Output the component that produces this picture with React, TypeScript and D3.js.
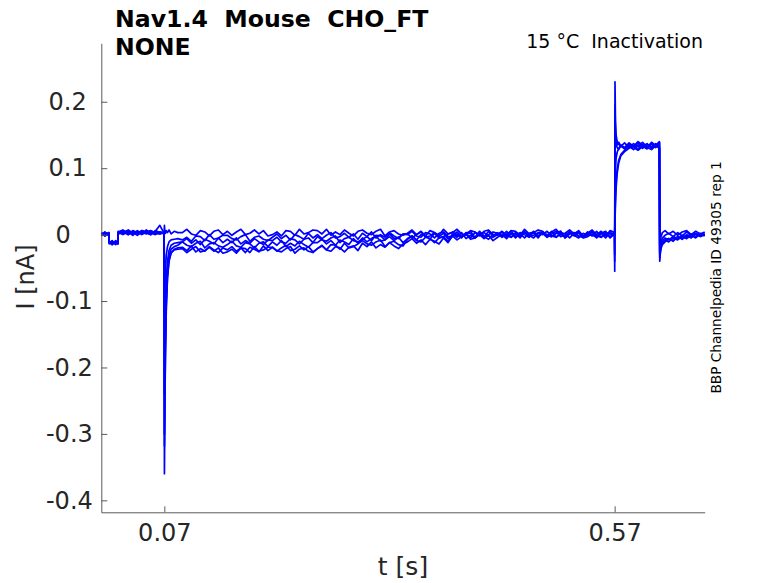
import { useEffect, useRef } from 'react';
import * as d3 from 'd3';

// time grid shared by all sweeps [s]
const TIME = [
  // holding + small pre step
  0, 0.004, 0.0084, 0.0088, 0.012, 0.016, 0.0184, 0.0188, 0.024, 0.03, 0.035, 0.04, 0.045, 0.05, 0.055, 0.06, 0.065, 0.0698,
  // prepulse onset
  0.0701, 0.0706, 0.0713, 0.0722, 0.0735, 0.0752, 0.0775, 0.081, 0.085,
  // prepulse
  0.09, 0.095, 0.10, 0.105, 0.11, 0.115, 0.12, 0.125, 0.13, 0.135,
  0.14, 0.145, 0.15, 0.155, 0.16, 0.165, 0.17, 0.175, 0.18, 0.185,
  0.19, 0.195, 0.20, 0.205, 0.21, 0.215, 0.22, 0.225, 0.23, 0.235,
  0.24, 0.245, 0.25, 0.255, 0.26, 0.265, 0.27, 0.275, 0.28, 0.285,
  0.29, 0.295, 0.30, 0.305, 0.31, 0.315, 0.32, 0.325, 0.33, 0.335,
  0.34, 0.345, 0.35, 0.355, 0.36, 0.365, 0.37, 0.375, 0.38, 0.385,
  0.39, 0.395, 0.40, 0.405, 0.41, 0.415, 0.42, 0.425, 0.43, 0.435,
  0.44, 0.445, 0.45, 0.455, 0.46, 0.465, 0.47, 0.475, 0.48, 0.485,
  0.49, 0.495, 0.50, 0.505, 0.51, 0.515, 0.52, 0.525, 0.53, 0.535,
  0.54, 0.545, 0.55, 0.555, 0.56, 0.565, 0.5698,
  // test pulse
  0.5701, 0.5704, 0.5709, 0.5716, 0.5728, 0.5745, 0.577, 0.581, 0.586, 0.591, 0.596, 0.601, 0.606, 0.611, 0.6155, 0.6197,
  // tail
  0.6201, 0.6206, 0.6215, 0.623, 0.626, 0.63, 0.635, 0.64, 0.645, 0.65, 0.655, 0.66, 0.665, 0.67,
];

// current of each sweep [nA]
const SWEEP_1 = [
  0.002, -0.002, 0.003, -0.011, -0.015, -0.009, -0.013, 0.004, 0.007, 0.001, 0.005, 0.002, 0.006, 0.003, 0.000, 0.006, 0.003, 0.002,
  -0.360, -0.262, -0.175, -0.110, -0.066, -0.040, -0.028, -0.022, -0.020,
  -0.019, -0.024, -0.017, -0.026, -0.021, -0.025, -0.018, -0.023, -0.027, -0.020,
  -0.023, -0.018, -0.025, -0.020, -0.027, -0.019, -0.022, -0.026, -0.017, -0.024,
  -0.019, -0.025, -0.020, -0.016, -0.024, -0.022, -0.017, -0.023, -0.018, -0.026,
  -0.021, -0.017, -0.023, -0.015, -0.016, -0.022, -0.013, -0.020, -0.018, -0.014,
  -0.009, -0.014, -0.016, -0.011, -0.008, -0.018, -0.012, -0.010, -0.015, -0.017,
  -0.007, -0.002, -0.009, -0.011, -0.004, -0.006, -0.012, -0.005, -0.003, -0.010,
  0.001, -0.004, 0.003, -0.006, -0.001, -0.005, 0.002, -0.003, -0.007, 0.000,
  -0.001, 0.004, -0.003, 0.002, -0.005, 0.003, 0.000, -0.004, 0.005, -0.002,
  0.002, -0.004, 0.001, 0.005, -0.003, -0.001, 0.004, -0.002, 0.003, -0.005,
  -0.003, 0.001, -0.005, 0.003, 0.002, -0.004, 0.001,
  -0.055, 0.230, 0.172, 0.150, 0.140, 0.136, 0.133, 0.138, 0.131, 0.137, 0.133, 0.139, 0.132, 0.137, 0.134, 0.139,
  -0.040, -0.030, -0.021, -0.015, -0.011, -0.006, -0.010, -0.003, -0.007, -0.001, -0.005, 0.001, -0.003, 0.000,
];
const SWEEP_2 = [
  0.000, 0.004, -0.001, -0.013, -0.009, -0.015, -0.011, 0.001, 0.003, 0.007, 0.002, 0.005, 0.000, 0.004, 0.006, 0.002, 0.001, 0.004,
  -0.318, -0.245, -0.165, -0.104, -0.062, -0.038, -0.027, -0.023, -0.022,
  -0.021, -0.027, -0.022, -0.018, -0.026, -0.024, -0.019, -0.025, -0.020, -0.028,
  -0.026, -0.022, -0.028, -0.020, -0.021, -0.027, -0.018, -0.025, -0.023, -0.019,
  -0.019, -0.024, -0.026, -0.021, -0.018, -0.028, -0.022, -0.020, -0.025, -0.027,
  -0.021, -0.016, -0.023, -0.025, -0.018, -0.020, -0.026, -0.019, -0.017, -0.024,
  -0.013, -0.018, -0.011, -0.020, -0.015, -0.019, -0.012, -0.017, -0.021, -0.014,
  -0.011, -0.006, -0.013, -0.008, -0.015, -0.007, -0.010, -0.014, -0.005, -0.012,
  -0.002, -0.008, -0.003, 0.001, -0.007, -0.005, 0.000, -0.006, -0.001, -0.009,
  -0.004, 0.000, -0.006, 0.002, 0.001, -0.005, 0.004, -0.003, -0.001, 0.003,
  0.004, -0.001, -0.003, 0.002, 0.005, -0.005, 0.001, 0.003, -0.002, -0.004,
  0.000, 0.005, -0.002, -0.004, 0.003, 0.001, -0.001,
  0.002, 0.030, 0.058, 0.080, 0.098, 0.112, 0.121, 0.127, 0.133, 0.128, 0.135, 0.130, 0.136, 0.131, 0.137, 0.132,
  -0.028, -0.022, -0.016, -0.012, -0.008, -0.011, -0.005, -0.008, -0.003, -0.006, -0.001, -0.005, 0.001, -0.002,
];
const SWEEP_3 = [
  -0.002, 0.003, 0.000, -0.012, -0.015, -0.010, -0.014, 0.005, 0.001, 0.004, -0.001, 0.006, 0.002, 0.005, 0.003, 0.000, 0.004, 0.003,
  -0.300, -0.215, -0.140, -0.088, -0.052, -0.032, -0.022, -0.018, -0.016,
  -0.011, -0.016, -0.018, -0.013, -0.010, -0.020, -0.014, -0.012, -0.017, -0.019,
  -0.015, -0.010, -0.017, -0.019, -0.012, -0.014, -0.020, -0.013, -0.011, -0.018,
  -0.011, -0.016, -0.009, -0.018, -0.013, -0.017, -0.010, -0.015, -0.019, -0.012,
  -0.012, -0.007, -0.014, -0.009, -0.016, -0.008, -0.011, -0.015, -0.006, -0.013,
  -0.005, -0.011, -0.006, -0.002, -0.010, -0.008, -0.003, -0.009, -0.004, -0.012,
  -0.006, -0.002, -0.008, 0.000, -0.001, -0.007, 0.002, -0.005, -0.003, 0.001,
  0.004, -0.001, -0.003, 0.002, 0.005, -0.005, 0.001, 0.003, -0.002, -0.004,
  0.000, 0.005, -0.002, -0.004, 0.003, 0.001, -0.005, 0.002, 0.004, -0.003,
  0.003, -0.002, 0.005, -0.004, 0.001, -0.003, 0.004, -0.001, -0.005, 0.002,
  -0.001, 0.004, -0.003, 0.002, -0.005, 0.003, 0.000,
  -0.040, 0.195, 0.152, 0.140, 0.135, 0.139, 0.133, 0.130, 0.137, 0.132, 0.138, 0.133, 0.129, 0.136, 0.131, 0.138,
  -0.035, -0.026, -0.018, -0.013, -0.009, -0.006, -0.009, -0.003, -0.006, 0.000, -0.004, 0.001, -0.002, 0.001,
];
const SWEEP_4 = [
  0.003, -0.002, 0.002, -0.010, -0.013, -0.014, -0.010, 0.002, 0.006, 0.000, 0.004, 0.002, 0.006, 0.003, 0.000, 0.005, 0.014, 0.002,
  -0.240, -0.170, -0.108, -0.066, -0.040, -0.024, -0.016, -0.013, -0.012,
  -0.011, -0.006, -0.013, -0.008, -0.015, -0.007, -0.010, -0.014, -0.005, -0.012,
  -0.007, -0.012, -0.005, -0.014, -0.009, -0.013, -0.006, -0.011, -0.015, -0.008,
  -0.009, -0.004, -0.011, -0.013, -0.006, -0.008, -0.014, -0.007, -0.005, -0.012,
  -0.003, -0.008, -0.010, -0.005, -0.002, -0.012, -0.006, -0.004, -0.009, -0.011,
  -0.007, -0.003, -0.009, -0.001, -0.002, -0.008, 0.001, -0.006, -0.004, 0.000,
  0.001, -0.005, 0.000, 0.004, -0.004, -0.002, 0.003, -0.003, 0.002, -0.006,
  -0.001, 0.004, -0.003, 0.002, -0.005, 0.003, 0.000, -0.004, 0.005, -0.002,
  0.003, -0.002, 0.005, -0.004, 0.001, -0.003, 0.004, -0.001, -0.005, 0.002,
  0.000, 0.005, -0.002, -0.004, 0.003, 0.001, -0.005, 0.002, 0.004, -0.003,
  0.004, -0.001, -0.003, 0.002, 0.005, -0.005, 0.002,
  0.001, 0.020, 0.045, 0.070, 0.092, 0.108, 0.119, 0.125, 0.130, 0.134, 0.129, 0.136, 0.131, 0.128, 0.134, 0.130,
  -0.022, -0.017, -0.012, -0.009, -0.005, -0.008, -0.003, -0.006, -0.001, -0.004, 0.001, -0.003, 0.002, -0.001,
];
const SWEEP_5 = [
  0.001, 0.003, -0.002, -0.012, -0.010, -0.013, -0.014, 0.004, 0.000, 0.005, 0.003, -0.001, 0.004, 0.001, 0.006, 0.002, 0.004, 0.001,
  -0.120, -0.080, -0.050, -0.030, -0.018, -0.011, -0.008, -0.007, -0.006,
  -0.008, -0.004, -0.010, -0.002, -0.003, -0.009, 0.000, -0.007, -0.005, -0.001,
  -0.001, -0.006, -0.008, -0.003, 0.000, -0.010, -0.004, -0.002, -0.007, -0.009,
  -0.004, 0.001, -0.006, -0.001, -0.008, 0.000, -0.003, -0.007, 0.002, -0.005,
  0.000, -0.006, -0.001, 0.003, -0.005, -0.003, 0.002, -0.004, 0.001, -0.007,
  0.002, -0.003, 0.004, -0.005, 0.000, -0.004, 0.003, -0.002, -0.006, 0.001,
  0.000, 0.005, -0.002, -0.004, 0.003, 0.001, -0.005, 0.002, 0.004, -0.003,
  -0.003, 0.001, -0.005, 0.003, 0.002, -0.004, 0.005, -0.002, 0.000, 0.004,
  0.002, -0.004, 0.001, 0.005, -0.003, -0.001, 0.004, -0.002, 0.003, -0.005,
  0.004, -0.001, -0.003, 0.002, 0.005, -0.005, 0.001, 0.003, -0.002, -0.004,
  0.003, -0.002, 0.005, -0.004, 0.001, -0.003, 0.002,
  -0.030, 0.170, 0.145, 0.136, 0.131, 0.128, 0.134, 0.129, 0.135, 0.131, 0.127, 0.133, 0.137, 0.130, 0.135, 0.131,
  -0.030, -0.020, -0.011, -0.005, -0.001, 0.002, -0.003, 0.003, -0.002, 0.004, -0.002, 0.002, -0.001, 0.003,
];
const SWEEP_6 = [
  0.002, 0.000, 0.003, -0.014, -0.011, -0.012, -0.011, 0.002, 0.004, 0.000, 0.006, 0.003, 0.001, 0.007, 0.002, 0.005, 0.001, 0.003,
  0.014, 0.004, 0.002, 0.006, 0.003, 0.007, 0.001, 0.005, 0.003,
  0.003, 0.008, 0.001, -0.001, 0.006, 0.004, -0.002, 0.005, 0.007, 0.000,
  0.005, -0.001, 0.004, 0.008, 0.000, 0.002, 0.007, 0.001, 0.006, -0.002,
  0.000, 0.004, -0.002, 0.006, 0.005, -0.001, 0.008, 0.001, 0.003, 0.007,
  0.006, 0.001, 0.008, -0.001, 0.004, 0.000, 0.007, 0.002, -0.002, 0.005,
  0.007, 0.002, 0.000, 0.005, 0.008, -0.002, 0.004, 0.006, 0.001, -0.001,
  0.002, 0.007, 0.000, 0.005, -0.002, 0.006, 0.003, -0.001, 0.008, 0.001,
  0.003, 0.008, 0.001, -0.001, 0.006, 0.004, -0.002, 0.005, 0.007, 0.000,
  0.000, 0.004, -0.002, 0.006, 0.005, -0.001, 0.008, 0.001, 0.003, 0.007,
  0.005, -0.001, 0.004, 0.008, 0.000, 0.002, 0.007, 0.001, 0.006, -0.002,
  0.002, 0.007, 0.000, 0.005, -0.002, 0.006, 0.003,
  0.003, 0.060, 0.097, 0.115, 0.124, 0.130, 0.135, 0.131, 0.138, 0.133, 0.140, 0.135, 0.131, 0.139, 0.134, 0.140,
  -0.015, -0.008, -0.003, 0.003, 0.006, 0.001, 0.005, -0.001, 0.004, 0.006, 0.000, 0.005, 0.001, 0.004,
];

const SWEEPS = [SWEEP_1, SWEEP_2, SWEEP_3, SWEEP_4, SWEEP_5, SWEEP_6];

const X_TICKS = [0.07, 0.57];
const X_TICK_LABELS = ['0.07', '0.57'];
const Y_TICKS = [-0.4, -0.3, -0.2, -0.1, 0, 0.1, 0.2];
const Y_TICK_LABELS = ['-0.4', '-0.3', '-0.2', '-0.1', '0', '0.1', '0.2'];

const TITLE_1 = 'Nav1.4  Mouse  CHO_FT';
const TITLE_2 = 'NONE';
const CONDITION = '15 °C  Inactivation';
const SOURCE = 'BBP Channelpedia ID 49305 rep 1';

const W = 778;
const H = 583;
const FONT = '"DejaVu Sans", sans-serif';
const TEXT = '#262626';
const AXIS = '#5a5a5a';

export default function App() {
  const xAxisRef = useRef<SVGGElement>(null);
  const yAxisRef = useRef<SVGGElement>(null);

  const x = d3.scaleLinear().domain([0, 0.67]).range([101.3, 704.7]);
  const y = d3.scaleLinear().domain([-0.418, 0.288]).range([512.3, 43.3]);

  useEffect(() => {
    document.body.style.margin = '0';

    const xAxis = d3.axisBottom(x)
      .tickValues(X_TICKS)
      .tickFormat((_, i) => X_TICK_LABELS[i])
      .tickSizeInner(-6)
      .tickSizeOuter(0)
      .tickPadding(12);
    const yAxis = d3.axisLeft(y)
      .tickValues(Y_TICKS)
      .tickFormat((_, i) => Y_TICK_LABELS[i])
      .tickSizeInner(-6)
      .tickSizeOuter(0)
      .tickPadding(19);

    const gx = d3.select(xAxisRef.current!);
    gx.selectAll('*').remove();
    gx.call(xAxis);
    const gy = d3.select(yAxisRef.current!);
    gy.selectAll('*').remove();
    gy.call(yAxis);

    [gx, gy].forEach(g => {
      g.attr('font-family', FONT).attr('font-size', 24);
      g.selectAll('.domain').attr('stroke', AXIS);
      g.selectAll('.tick line').attr('stroke', AXIS);
      g.selectAll('.tick text').attr('fill', TEXT);
    });

    // y labels sit about 30% into their width from a common anchor, as in the source figure
    const anchor = 60 - x.range()[0];
    gy.selectAll<SVGTextElement, unknown>('.tick text').each(function () {
      const w = this.getComputedTextLength();
      d3.select(this).attr('text-anchor', 'start').attr('x', anchor - 0.3 * w);
    });
  }, []);

  const line = d3.line<number>()
    .x((_, i) => x(TIME[i]))
    .y(d => y(d));

  return (
    <svg width={W} height={H} style={{ position: 'absolute', left: 0, top: 0, background: '#fff' }}>
      <rect width={W} height={H} fill="#fff" />
      <g>
        {SWEEPS.map((s, k) => (
          <path key={k} d={line(s.slice(0, TIME.length)) ?? ''} fill="none" stroke="#0000ff" strokeWidth={1.7} strokeLinejoin="round" />
        ))}
      </g>
      <g ref={xAxisRef} transform={`translate(0,${y.range()[0]})`} />
      <g ref={yAxisRef} transform={`translate(${x.range()[0]},0)`} />

      <text x={115} y={27} fontFamily={FONT} fontWeight="bold" fontSize={23.6} fill="#000" style={{ whiteSpace: 'pre' }}>{TITLE_1}</text>
      <text x={115} y={55} fontFamily={FONT} fontWeight="bold" fontSize={23.6} fill="#000">{TITLE_2}</text>
      <text x={703} y={48} textAnchor="end" fontFamily={FONT} fontSize={19} fill="#000" style={{ whiteSpace: 'pre' }}>{CONDITION}</text>
      <text transform="translate(720.5,277.5) rotate(-90)" textAnchor="middle" fontFamily={FONT} fontSize={13.7} fill="#000">{SOURCE}</text>

      <text transform="translate(34,277) rotate(-90)" textAnchor="middle" fontFamily={FONT} fontSize={24} fill={TEXT}>I [nA]</text>
      <text x={403} y={575} textAnchor="middle" fontFamily={FONT} fontSize={25} fill={TEXT}>t [s]</text>
    </svg>
  );
}
